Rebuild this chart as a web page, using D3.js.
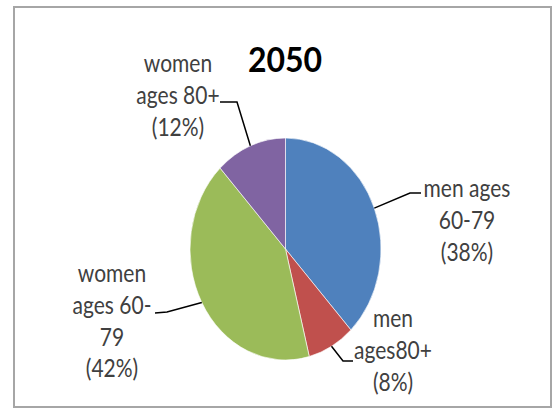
<!DOCTYPE html>
<html>
<head>
<meta charset="utf-8">
<script src="https://cdn.jsdelivr.net/npm/d3@7"></script>
<style>
    body { margin: 0; background: #fff; }
    text { font-family: Lato, "Open Sans", sans-serif; }
</style>
</head>
<body>
<script>
//chart data
var title = "2050";
var categories = ["men ages 60-79", "men ages80+", "women ages 60-79", "women ages 80+"];
var values = [38, 8, 42, 12];
var labelLines = [
    ["men ages", "60-79", "(38%)"],
    ["men", "ages80+", "(8%)"],
    ["women", "ages 60-", "79", "(42%)"],
    ["women", "ages 80+", "(12%)"]
];
var colors = ["#4f81bd", "#c0504d", "#9bbb59", "#8064a2"];

//where each label sits: text center, first baseline, and the leader elbow/end
var labelLayout = [
    {x: 467, y: 197, elbow: [410, 193], end: [421, 193]},
    {x: 393, y: 327, elbow: [343, 361], end: [353, 361]},
    {x: 112, y: 282, elbow: [167, 312], end: [155, 313]},
    {x: 178, y: 72, elbow: [237, 102], end: [220, 102]}
];

window.onload = drawChart();

function drawChart(){
    var width = 553,
        height = 410;

    var svg = d3.select("body")
        .append("svg")
        .attr("width", width)
        .attr("height", height);

    //chart frame
    svg.append("rect")
        .attr("x", 14)
        .attr("y", 7)
        .attr("width", 537)
        .attr("height", 400)
        .attr("fill", "#fff")
        .attr("stroke", "#a6a6a6")
        .attr("stroke-width", 2);

    //pie is a slightly squashed ellipse
    var cx = 285.5, cy = 249, rx = 95.5, ry = 111;
    var r = 100;

    var pie = d3.pie()
        .sort(null)
        .value(function(d){ return d; });

    var arcs = pie(values);

    var arc = d3.arc()
        .innerRadius(0)
        .outerRadius(r);

    svg.append("g")
        .attr("transform", "translate(" + cx + "," + cy + ") scale(" + (rx / r) + "," + (ry / r) + ")")
        .selectAll("path")
        .data(arcs)
        .enter()
        .append("path")
        .attr("d", arc)
        .attr("fill", function(d, i){ return colors[i]; })
        .attr("stroke", "#fff")
        .attr("stroke-width", 0.6);

    //leader lines from the middle of each slice's edge
    svg.selectAll(".leader")
        .data(arcs)
        .enter()
        .append("polyline")
        .attr("class", "leader")
        .attr("points", function(d, i){
            var a = (d.startAngle + d.endAngle) / 2;
            var sx = cx + rx * Math.sin(a),
                sy = cy - ry * Math.cos(a);
            var L = labelLayout[i];
            return [[sx, sy], L.elbow, L.end].map(function(p){ return p.join(","); }).join(" ");
        })
        .attr("fill", "none")
        .attr("stroke", "#000")
        .attr("stroke-width", 1.5);

    //data labels, stretched a bit taller like the original
    var labels = svg.selectAll(".label")
        .data(labelLines)
        .enter()
        .append("text")
        .attr("class", "label")
        .attr("transform", function(d, i){
            return "translate(" + labelLayout[i].x + "," + labelLayout[i].y + ") scale(1,1.2)";
        })
        .attr("text-anchor", "middle")
        .attr("font-size", 21)
        .attr("fill", "#404040");

    labels.selectAll("tspan")
        .data(function(d){ return d; })
        .enter()
        .append("tspan")
        .attr("x", 0)
        .attr("y", function(d, j){ return j * 26.5; })
        .text(function(d){ return d; });

    //title
    svg.append("text")
        .attr("transform", "translate(285,72) scale(1,1.1)")
        .attr("text-anchor", "middle")
        .attr("font-size", 32)
        .attr("font-weight", "bold")
        .attr("fill", "#000")
        .text(title);
}
</script>
</body>
</html>
